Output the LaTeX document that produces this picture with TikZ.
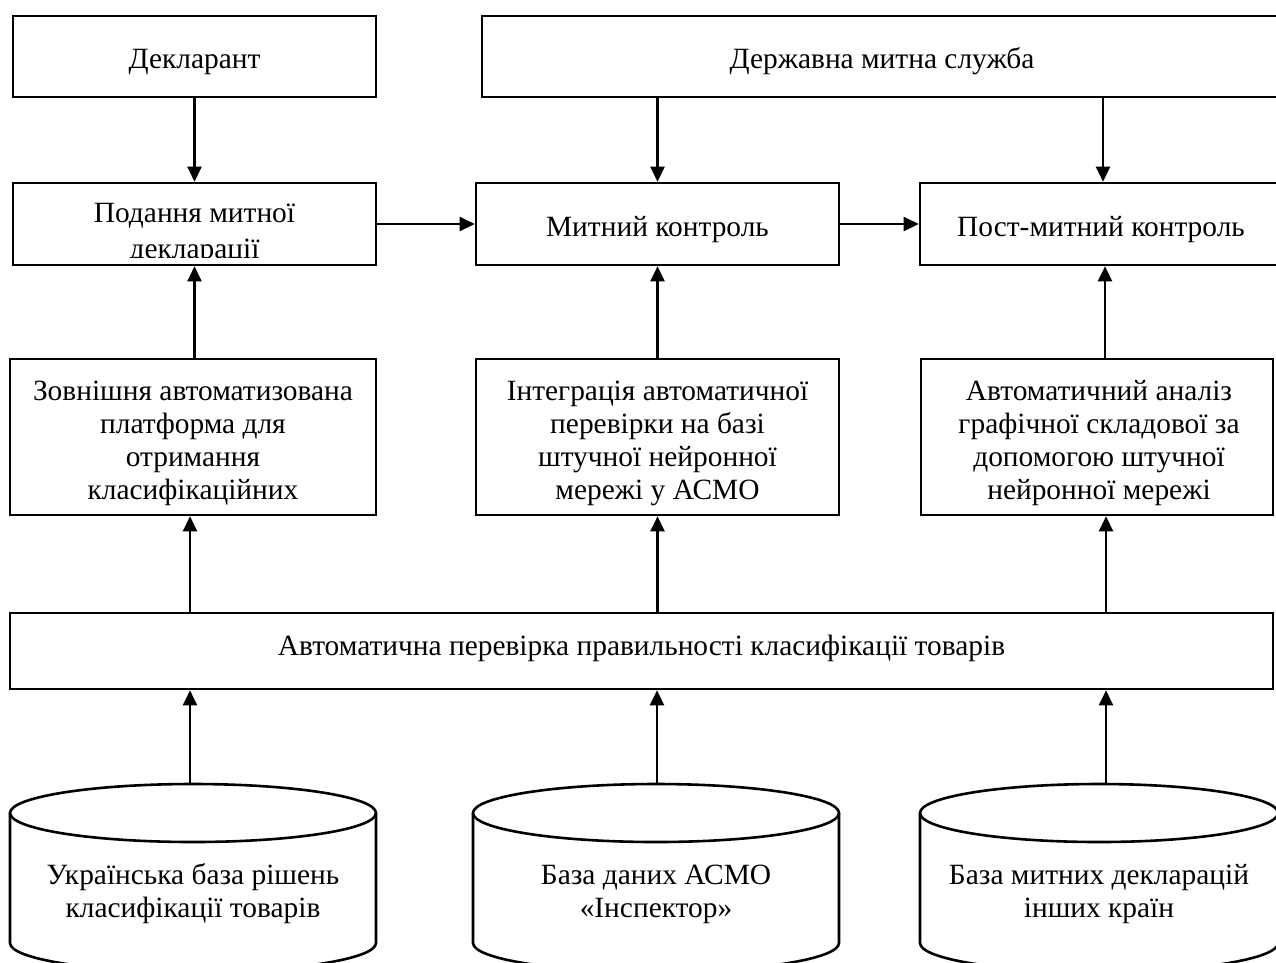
\documentclass[tikz,border=0pt]{standalone}
\usepackage{fontspec}
\setmainfont{Liberation Serif}
\usetikzlibrary{arrows.meta,calc}
\newcommand{\mainfs}{\fontsize{29.4pt}{33pt}\selectfont}
\tikzset{
  blk/.style={draw, line width=2.6pt, inner sep=0pt, align=center, font=\mainfs},
  oneline/.style={text height=32pt, text depth=8pt},
  lbl/.style={align=center, font=\mainfs, inner sep=0pt},
  arr/.style={line width=2.4pt, -{Triangle[length=15pt,width=14pt]}},
  cylline/.style={line width=2.6pt}
}
\begin{document}
\begin{tikzpicture}[x=1pt,y=-1pt]
\useasboundingbox (0,0) rectangle (1276,962);
\clip (0,0) rectangle (1276,962);
\fill[white] (0,0) rectangle (1276,962);

% row 1
\node[blk, oneline, minimum width=363pt, minimum height=81pt] (dek) at (194.5,56.5) {Декларант};
\node[blk, oneline, minimum width=800pt, minimum height=81pt] (derzh) at (882,56.5) {Державна митна служба};

% row 2
\node[blk, minimum width=363pt, minimum height=82pt] (pod) at (194.5,224) {};
\begin{scope}
  \clip (15,186) rectangle (374,257);
  \node[lbl, font=\fontsize{29.4pt}{36pt}\selectfont, anchor=north] (podtxt) at (194.5,203) {Подання митної\\декларації};
\end{scope}
\node[blk, oneline, minimum width=363pt, minimum height=82pt] (myt) at (657.5,224) {Митний контроль};
\node[blk, oneline, minimum width=362pt, minimum height=82pt] (post) at (1101,224) {Пост-митний контроль};

% row 3
\node[blk, minimum width=366pt, minimum height=156pt] (zovn) at (193,437) {};
\node[lbl] (zovntxt) at (193,443) {Зовнішня автоматизована\\платформа для\\отримання\\класифікаційних};
\node[blk, minimum width=363pt, minimum height=156pt] (integ) at (657.5,437) {};
\node[lbl] (integtxt) at (657.5,443) {Інтеграція автоматичної\\перевірки на базі\\штучної нейронної\\мережі у АСМО};
\node[blk, minimum width=352pt, minimum height=156pt] (anal) at (1097,437) {};
\node[lbl] (analtxt) at (1099,443) {Автоматичний аналіз\\графічної складової за\\допомогою штучної\\нейронної мережі};

% row 4
\node[blk, minimum width=1263pt, minimum height=76pt, text height=20pt, text depth=12pt] (wide) at (641.5,651) {Автоматична перевірка правильності класифікації товарів};

% cylinders
\draw[cylline] (193,813) ellipse [x radius=183pt, y radius=29pt];
\draw[cylline] (10,813) -- (10,943) arc[start angle=180, end angle=360, x radius=183pt, y radius=29pt] -- (376,813);
\coordinate (c1top) at (190,784);
\node[lbl] (cyl1) at (193,894) {Українська база рішень\\класифікації товарів};

\draw[cylline] (656,813) ellipse [x radius=183pt, y radius=29pt];
\draw[cylline] (473,813) -- (473,943) arc[start angle=180, end angle=360, x radius=183pt, y radius=29pt] -- (839,813);
\coordinate (c2top) at (657,784);
\node[lbl] (cyl2) at (656,894) {База даних АСМО\\«Інспектор»};

\draw[cylline] (1099,813) ellipse [x radius=179pt, y radius=29pt];
\draw[cylline] (920,813) -- (920,943) arc[start angle=180, end angle=360, x radius=179pt, y radius=29pt] -- (1278,813);
\coordinate (c3top) at (1106,784);
\node[lbl] (cyl3) at (1099,894) {База митних декларацій\\інших країн};

% arrows
\draw[arr] (dek.south -| pod.north) -- (pod.north);
\draw[arr] (derzh.south -| myt.north) -- (myt.north);
\draw[arr] ($(derzh.south -| post.north)+(2,0)$) -- ($(post.north)+(2,0)$);
\draw[arr] (pod.east) -- (myt.west);
\draw[arr] (myt.east) -- (post.west);
\draw[arr] (zovn.north -| pod.south) -- (pod.south);
\draw[arr] (integ.north -| myt.south) -- (myt.south);
\draw[arr] ($(anal.north)+(8,0)$) -- ($(post.south)+(4,0)$);
\draw[arr] ($(wide.north -| zovn.south)+(-3,0)$) -- ($(zovn.south)+(-3,0)$);
\draw[arr] (wide.north -| integ.south) -- (integ.south);
\draw[arr] ($(wide.north -| anal.south)+(9,0)$) -- ($(anal.south)+(9,0)$);
\draw[arr] (c1top) -- (c1top |- wide.south);
\draw[arr] (c2top) -- (c2top |- wide.south);
\draw[arr] (c3top) -- (c3top |- wide.south);
\end{tikzpicture}
\end{document}
